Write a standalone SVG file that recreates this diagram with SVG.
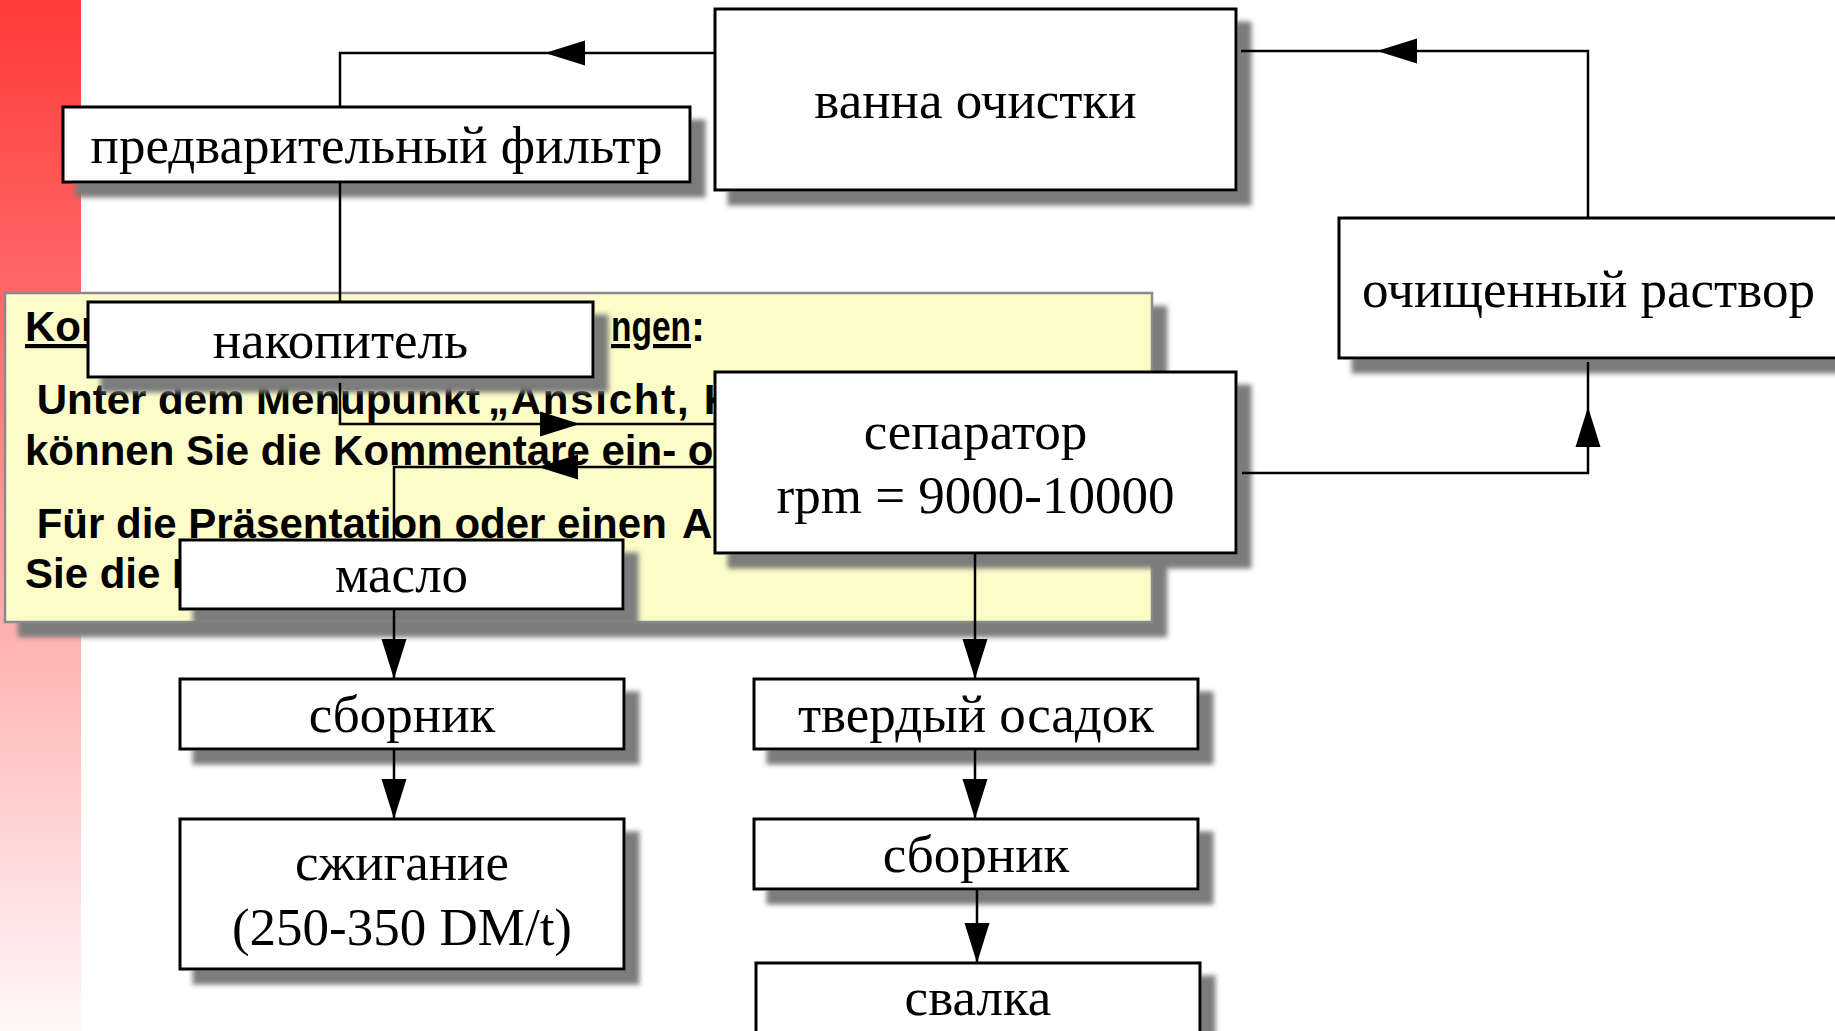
<svg xmlns="http://www.w3.org/2000/svg" xmlns:xlink="http://www.w3.org/1999/xlink" width="1835" height="1031" viewBox="0 0 1835 1031">
<defs>
<linearGradient id="red" x1="0" y1="0" x2="0" y2="1">
<stop offset="0" stop-color="#ff3a3a"/>
<stop offset="0.3" stop-color="#ff6a6a"/>
<stop offset="0.6" stop-color="#ffaeae"/>
<stop offset="1" stop-color="#fff8f8"/>
</linearGradient>
<filter id="sh" x="-5%" y="-25%" width="115%" height="180%">
<feGaussianBlur in="SourceAlpha" stdDeviation="2.5" result="b"/>
<feOffset in="b" dx="14" dy="14" result="o"/>
<feFlood flood-color="#7c7c7c"/>
<feComposite in2="o" operator="in" result="s"/>
<feMerge><feMergeNode in="s"/><feMergeNode in="SourceGraphic"/></feMerge>
</filter>
<path id="ah" d="M0,0 L-40,-12.5 L-40,12.5 Z" fill="#000"/>
</defs>
<style>
.box{fill:#fff;stroke:#000;stroke-width:3;filter:url(#sh)}
.t{font-family:"Liberation Serif","Times New Roman",serif;font-size:53px;text-anchor:middle;fill:#000}
.c{fill:none;stroke:#000;stroke-width:2.5}
.cm{font-family:"Liberation Sans",Arial,sans-serif;font-weight:bold;font-size:42px;fill:#000}
.u{text-decoration:underline}
</style>
<rect x="0" y="0" width="1835" height="1031" fill="#fff"/>
<rect x="0" y="0" width="81" height="1031" fill="url(#red)"/>

<g id="note">
<rect x="5" y="293" width="1147" height="329" fill="#fcfcc9" stroke="#8a8a8a" stroke-width="2.5" filter="url(#sh)"/>
<text class="cm u" x="25" y="341">Kom</text>
<text class="cm" x="611" y="341"><tspan class="u" textLength="80" lengthAdjust="spacingAndGlyphs">ngen</tspan>:</text>
<text class="cm" x="25" y="414" xml:space="preserve"> Unter dem Menüpunkt <tspan x="488" textLength="214" lengthAdjust="spacing">„Ansicht, </tspan>K</text>
<text class="cm" x="25" y="465">können Sie die Kommentare ein- o</text>
<text class="cm" x="25" y="538" xml:space="preserve"> Für die Präsentation oder einen <tspan x="682">A</tspan></text>
<text class="cm" x="25" y="588">Sie die K</text>
</g>

<g id="n-filter"><rect class="box" x="63" y="107" width="627" height="75"/><text class="t" x="376.5" y="163">предварительный фильтр</text></g>
<g id="n-bath"><rect class="box" x="715" y="9" width="521" height="181"/><text class="t" x="975.5" y="118">ванна очистки</text></g>
<g id="n-clean"><rect class="box" x="1339" y="218" width="499" height="140"/><text class="t" x="1588.5" y="307">очищенный раствор</text></g>
<g id="n-store"><rect class="box" x="88" y="302" width="505" height="75"/><text class="t" x="340.5" y="358">накопитель</text></g>
<g id="n-sep"><rect class="box" x="715" y="372" width="521" height="181"/><text class="t" x="975.5" y="449">сепаратор</text><text class="t" x="975.5" y="513">rpm = 9000-10000</text></g>
<g id="n-oil"><rect class="box" x="180" y="540" width="443" height="69"/><text class="t" x="401.5" y="592">масло</text></g>
<g id="n-coll1"><rect class="box" x="180" y="679" width="444" height="70"/><text class="t" x="402" y="732">сборник</text></g>
<g id="n-burn"><rect class="box" x="180" y="819" width="444" height="150"/><text class="t" x="402" y="880">сжигание</text><text class="t" x="402" y="945">(250-350 DM/t)</text></g>
<g id="n-solid"><rect class="box" x="754" y="679" width="444" height="70"/><text class="t" x="976" y="732">твердый осадок</text></g>
<g id="n-coll2"><rect class="box" x="754" y="819" width="444" height="70"/><text class="t" x="976" y="872">сборник</text></g>
<g id="n-dump"><rect class="box" x="756" y="963" width="444" height="120"/><text class="t" x="978" y="1015">свалка</text></g>

<g id="connectors">
<path class="c" d="M715,53 H340 V107"/>
<use xlink:href="#ah" href="#ah" transform="translate(545,53) rotate(180)"/>
<path class="c" d="M340,182 V302"/>
<path class="c" d="M340,383 V424 H715"/>
<use xlink:href="#ah" href="#ah" transform="translate(580,424)"/>
<path class="c" d="M715,467 H394 V540"/>
<use xlink:href="#ah" href="#ah" transform="translate(538,467) rotate(180)"/>
<path class="c" d="M394,609 V679"/>
<use xlink:href="#ah" href="#ah" transform="translate(394,679) rotate(90)"/>
<path class="c" d="M394,749 V819"/>
<use xlink:href="#ah" href="#ah" transform="translate(394,819) rotate(90)"/>
<path class="c" d="M975,553 V679"/>
<use xlink:href="#ah" href="#ah" transform="translate(975,679) rotate(90)"/>
<path class="c" d="M975,749 V819"/>
<use xlink:href="#ah" href="#ah" transform="translate(975,819) rotate(90)"/>
<path class="c" d="M977,889 V963"/>
<use xlink:href="#ah" href="#ah" transform="translate(977,963) rotate(90)"/>
<path class="c" d="M1242,473 H1588 V362"/>
<use xlink:href="#ah" href="#ah" transform="translate(1588,407) rotate(-90)"/>
<path class="c" d="M1588,218 V51 H1241"/>
<use xlink:href="#ah" href="#ah" transform="translate(1377,51) rotate(180)"/>
</g>
</svg>
